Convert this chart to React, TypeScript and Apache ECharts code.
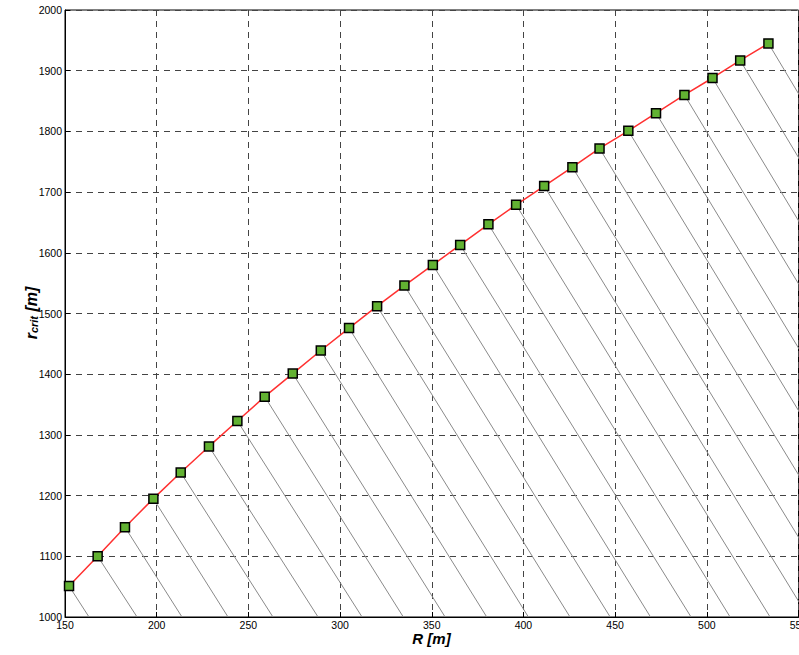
import React, { useEffect, useRef } from 'react';
import * as echarts from 'echarts';

// Radius R [m] of each computed point
const R_VALUES = [152.2, 167.8, 182.7, 198.2, 213.1, 228.5, 244.0, 258.9, 274.2, 289.5, 304.9, 320.2, 335.1, 350.6, 365.5, 380.9, 396.0, 411.3, 426.7, 441.5, 457.2, 472.3, 487.8, 503.1, 518.2, 533.6];
// Critical radius r_crit [m]
const R_CRIT = [1051, 1100, 1148, 1195, 1238, 1281, 1323, 1363, 1401, 1439, 1476, 1512, 1546, 1580, 1613, 1647, 1679, 1710, 1741, 1772, 1801, 1830, 1860, 1888, 1917, 1945];
// R where each grey construction line reaches r = 1000 m
const FOOT_R = [163.1, 189.3, 213.8, 238.9, 263.4, 288.0, 312.0, 334.5, 357.3, 380.0, 402.7, 425.4, 447.3, 469.3, 491.4, 512.7, 534.5, 555.3, 576.6, 597.3, 618.5, 639.0, 659.8, 680.2, 700.4, 720.8];

const X_MIN = 150;
const X_MAX = 550;
const X_STEP = 50;
const Y_MIN = 1000;
const Y_MAX = 2000;
const Y_STEP = 100;

const FONT = "Arial, 'Liberation Sans', Helvetica, sans-serif";

export default function App() {
  const ref = useRef<HTMLDivElement>(null);

  useEffect(() => {
    if (!ref.current) return;
    const chart = echarts.init(ref.current, undefined, { renderer: 'svg' });

    const greySeries = R_VALUES.map((x, i) => ({
      type: 'line',
      data: [
        [x, R_CRIT[i]],
        [FOOT_R[i], Y_MIN],
      ],
      showSymbol: false,
      symbol: 'none',
      silent: true,
      clip: true,
      lineStyle: { color: '#8a8a8a', width: 1 },
      z: 2,
    }));

    const axisCommon = {
      type: 'value',
      axisLine: { show: true, onZero: false, lineStyle: { color: '#000', width: 1 } },
      axisTick: { show: true, inside: true, length: 5, lineStyle: { color: '#000' } },
      splitLine: { show: true, lineStyle: { color: '#444', width: 1, type: [6, 5] } },
    };

    chart.setOption({
      animation: false,
      backgroundColor: '#fff',
      grid: {
        left: 65,
        top: 10,
        width: 733.5,
        height: 607,
        show: true,
        borderColor: '#000',
        borderWidth: 1,
        backgroundColor: 'transparent',
      },
      xAxis: {
        ...axisCommon,
        min: X_MIN,
        max: X_MAX,
        interval: X_STEP,
        axisLabel: {
          color: '#000',
          fontSize: 10.5,
          fontFamily: FONT,
          margin: 2,
          lineHeight: 11,
          formatter: (v: number) => String(v),
        },
      },
      yAxis: {
        ...axisCommon,
        min: Y_MIN,
        max: Y_MAX,
        interval: Y_STEP,
        axisLabel: {
          color: '#000',
          fontSize: 10.5,
          fontFamily: FONT,
          margin: 3,
          formatter: (v: number) => String(v),
        },
      },
      series: [
        ...greySeries,
        {
          type: 'line',
          data: R_VALUES.map((x, i) => [x, R_CRIT[i]]),
          symbol: 'rect',
          symbolSize: 9,
          showSymbol: true,
          lineStyle: { color: '#ff3030', width: 1.5 },
          itemStyle: { color: '#62b232', borderColor: '#000', borderWidth: 1.5 },
          z: 5,
        },
      ],
      graphic: [
        {
          type: 'text',
          x: 431.5,
          y: 638,
          style: {
            text: 'R [m]',
            font: `italic bold 15px ${FONT}`,
            lineHeight: 12,
            fill: '#000',
            align: 'center',
            verticalAlign: 'middle',
          },
        },
        {
          type: 'text',
          x: 24,
          y: 313,
          rotation: Math.PI / 2,
          style: {
            text: '{a|r}{b|crit}{a| [m]}',
            align: 'center',
            verticalAlign: 'middle',
            rich: {
              a: {
                fontSize: 16,
                fontWeight: 'bold',
                fontStyle: 'italic',
                fontFamily: FONT,
                fill: '#000',
                color: '#000',
                lineHeight: 30,
                verticalAlign: 'bottom',
              },
              b: {
                fontSize: 11,
                fontWeight: 'bold',
                fontStyle: 'italic',
                fontFamily: FONT,
                fill: '#000',
                color: '#000',
                lineHeight: 10,
                verticalAlign: 'bottom',
              },
            },
          },
        },
      ],
    });

    return () => chart.dispose();
  }, []);

  return (
    <div style={{ position: 'fixed', left: 0, top: 0, width: 799, height: 655, overflow: 'hidden', background: '#fff' }}>
      <div ref={ref} style={{ width: 830, height: 655 }} />
    </div>
  );
}
